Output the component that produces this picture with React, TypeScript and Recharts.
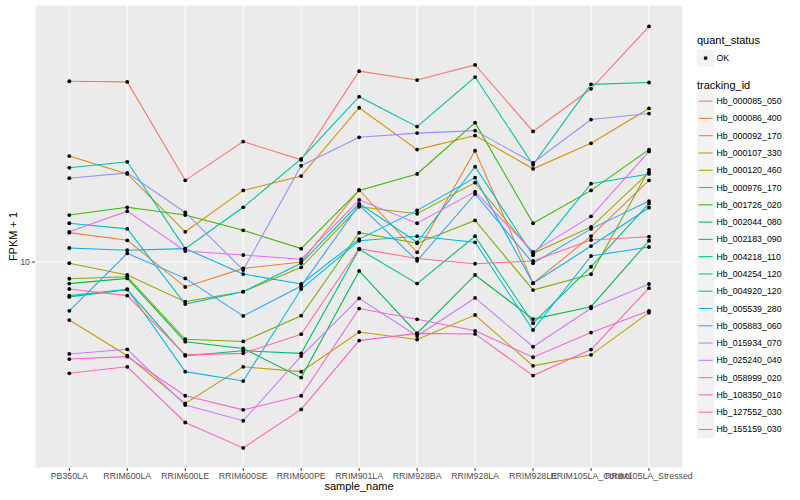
import React from "react";
import { ComposedChart, Line, XAxis, YAxis, CartesianGrid } from "recharts";

const samples = [
  "PB350LA", "RRIM600LA", "RRIM600LE", "RRIM600SE", "RRIM600PE", "RRIM901LA",
  "RRIM928BA", "RRIM928LA", "RRIM928LE", "RRIM105LA_Control", "RRIM105LA_Stressed",
];

const trackingIds = [
  "Hb_000085_050", "Hb_000086_400", "Hb_000092_170", "Hb_000107_330", "Hb_000120_460",
  "Hb_000976_170", "Hb_001726_020", "Hb_002044_080", "Hb_002183_090", "Hb_004218_110",
  "Hb_004254_120", "Hb_004920_120", "Hb_005539_280", "Hb_005883_060", "Hb_015934_070",
  "Hb_025240_040", "Hb_058999_020", "Hb_108350_010", "Hb_127552_030", "Hb_155159_030",
];

// FPKM + 1 per sample (order of `samples`)
const hb_000085_050 = [28.3, 28.2, 16.0, 20.0, 18.0, 30.0, 28.5, 31.1, 21.2, 27.1, 38.8];
const hb_000086_400 = [11.84, 11.33, 8.66, 9.64, 10.0, 15.14, 10.57, 18.97, 8.85, 11.6, 16.0];
const hb_000092_170 = [18.4, 16.6, 11.9, 15.1, 16.4, 24.3, 19.1, 20.7, 17.1, 19.8, 24.2];
const hb_000107_330 = [7.16, 5.83, 4.43, 5.47, 5.32, 6.68, 6.40, 7.37, 5.50, 5.86, 7.47];
const hb_000120_460 = [9.93, 9.28, 7.96, 8.43, 9.70, 13.74, 13.20, 15.79, 10.51, 12.23, 16.76];
const hb_000976_170 = [9.08, 9.19, 6.41, 6.33, 7.34, 11.84, 11.14, 12.7, 8.51, 9.32, 17.0];
const hb_001726_020 = [13.1, 13.7, 13.1, 12.0, 10.8, 15.1, 16.6, 22.3, 12.5, 15.1, 19.1];
const hb_002044_080 = [8.83, 9.10, 6.32, 6.08, 5.14, 9.50, 6.63, 9.28, 7.20, 7.73, 11.3];
const hb_002183_090 = [8.18, 8.53, 5.83, 6.00, 5.91, 10.76, 8.83, 11.6, 7.03, 9.73, 14.0];
const hb_004218_110 = [17.2, 17.8, 10.8, 13.7, 18.1, 25.9, 21.8, 29.0, 17.5, 27.8, 28.1];
const hb_004254_120 = [12.5, 12.1, 7.85, 8.43, 9.93, 14.0, 11.2, 17.3, 10.4, 15.7, 16.6];
const hb_004920_120 = [8.24, 8.55, 5.32, 5.04, 8.56, 11.3, 11.6, 11.2, 6.76, 10.35, 10.9];
const hb_005539_280 = [10.84, 10.70, 10.80, 9.33, 8.81, 11.41, 13.46, 16.25, 8.85, 10.96, 13.67];
const hb_005883_060 = [7.55, 10.51, 9.10, 7.33, 8.71, 13.9, 10.07, 14.79, 9.93, 12.1, 14.2];
const hb_015934_070 = [16.2, 16.7, 13.3, 9.55, 17.4, 20.5, 21.0, 21.3, 17.7, 22.7, 23.5];
const hb_025240_040 = [5.89, 6.05, 4.39, 4.01, 5.82, 8.11, 6.53, 8.13, 6.14, 7.66, 8.81];
const hb_058999_020 = [11.9, 13.4, 10.65, 10.41, 10.16, 14.3, 12.5, 15.0, 10.6, 13.0, 18.9];
const hb_108350_010 = [5.72, 5.80, 4.63, 4.27, 4.63, 7.65, 7.19, 6.73, 5.78, 6.66, 7.55];
const hb_127552_030 = [5.27, 5.47, 3.97, 3.43, 4.28, 6.36, 6.63, 6.61, 5.20, 6.04, 8.60];
const hb_155159_030 = [8.56, 8.24, 5.86, 5.91, 6.60, 10.8, 10.2, 9.90, 10.06, 11.35, 11.57];

const seriesValues = [
  hb_000085_050, hb_000086_400, hb_000092_170, hb_000107_330, hb_000120_460,
  hb_000976_170, hb_001726_020, hb_002044_080, hb_002183_090, hb_004218_110,
  hb_004254_120, hb_004920_120, hb_005539_280, hb_005883_060, hb_015934_070,
  hb_025240_040, hb_058999_020, hb_108350_010, hb_127552_030, hb_155159_030,
];

const yTicks = [10];

const colors = [
  "#F8766D", "#EA8331", "#D89000", "#C09B00", "#A3A500", "#7CAE00", "#39B600",
  "#00BB4E", "#00BF7D", "#00C1A3", "#00BFC4", "#00BAE0", "#00B0F6", "#35A2FF",
  "#9590FF", "#C77CFF", "#E76BF3", "#FA62DB", "#FF62BC", "#FF6C91",
];

const data = samples.map((s, i) => {
  const row: Record<string, any> = { sample: s };
  trackingIds.forEach((id, k) => {
    row[id] = seriesValues[k][i];
  });
  return row;
});

const FONT = "'Liberation Sans', Arial, Helvetica, sans-serif";

export default function App() {
  const legendTop = 92.5;
  const step = 17.28;
  return (
    <div style={{ position: "absolute", left: 0, top: 0, width: 800, height: 500, background: "#fff", fontFamily: FONT }}>
      <ComposedChart
        width={800}
        height={500}
        data={data}
        margin={{ top: 5, right: 117, bottom: 0, left: 0 }}
      >
        <CartesianGrid fill="#EBEBEB" stroke="#FFFFFF" strokeWidth={1.1} />
        <XAxis
          dataKey="sample"
          interval={0}
          height={32}
          padding={{ left: 34.3, right: 34 }}
          axisLine={false}
          tickSize={3}
          tickMargin={2}
          tickLine={{ stroke: "#333333", strokeWidth: 1 }}
          tick={{ fill: "#4D4D4D", fontSize: 8.8, fontFamily: FONT }}
        />
        <YAxis
          type="number"
          scale="log"
          domain={[3.055, 43.9]}
          allowDataOverflow
          ticks={yTicks}
          width={35}
          axisLine={false}
          tickSize={3}
          tickMargin={2}
          tickLine={{ stroke: "#333333", strokeWidth: 1 }}
          tick={{ fill: "#4D4D4D", fontSize: 8.8, fontFamily: FONT }}
        />
        {trackingIds.map((id, k) => (
          <Line
            key={id}
            type="linear"
            dataKey={id}
            stroke={colors[k]}
            strokeWidth={1.07}
            dot={false}
            activeDot={false}
            isAnimationActive={false}
          />
        ))}
        {trackingIds.map((id) => (
          <Line
            key={id + "_pts"}
            type="linear"
            dataKey={id}
            stroke="none"
            dot={{ r: 1.9, fill: "#000000", stroke: "none" }}
            activeDot={false}
            legendType="none"
            isAnimationActive={false}
          />
        ))}
      </ComposedChart>
      <svg width={800} height={500} style={{ position: "absolute", left: 0, top: 0, pointerEvents: "none" }}>
        <text x={13} y={236.5} transform="rotate(-90 13 236.5)" textAnchor="middle" dominantBaseline="central" fontSize={11} fill="#000" fontFamily={FONT}>
          FPKM + 1
        </text>
        <text x={359} y={490} textAnchor="middle" fontSize={11} fill="#000" fontFamily={FONT}>
          sample_name
        </text>
        <text x={697} y={44} fontSize={11} fill="#000" fontFamily={FONT}>quant_status</text>
        <rect x={697} y={49.5} width={17.3} height={17.3} fill="#F2F2F2" />
        <circle cx={705.6} cy={58.1} r={1.9} fill="#000" />
        <text x={716.5} y={58.1} dominantBaseline="central" fontSize={8.8} fill="#000" fontFamily={FONT}>OK</text>
        <text x={697} y={88.5} fontSize={11} fill="#000" fontFamily={FONT}>tracking_id</text>
        {trackingIds.map((id, k) => {
          const y = legendTop + k * step;
          const cy = y + step / 2;
          return (
            <g key={id}>
              <rect x={697} y={y} width={17.3} height={step} fill="#F2F2F2" />
              <line x1={698.7} x2={712.6} y1={cy} y2={cy} stroke={colors[k]} strokeWidth={1.07} />
              <text x={716.5} y={cy} dominantBaseline="central" fontSize={8.8} fill="#000" fontFamily={FONT}>{id}</text>
            </g>
          );
        })}
      </svg>
    </div>
  );
}
